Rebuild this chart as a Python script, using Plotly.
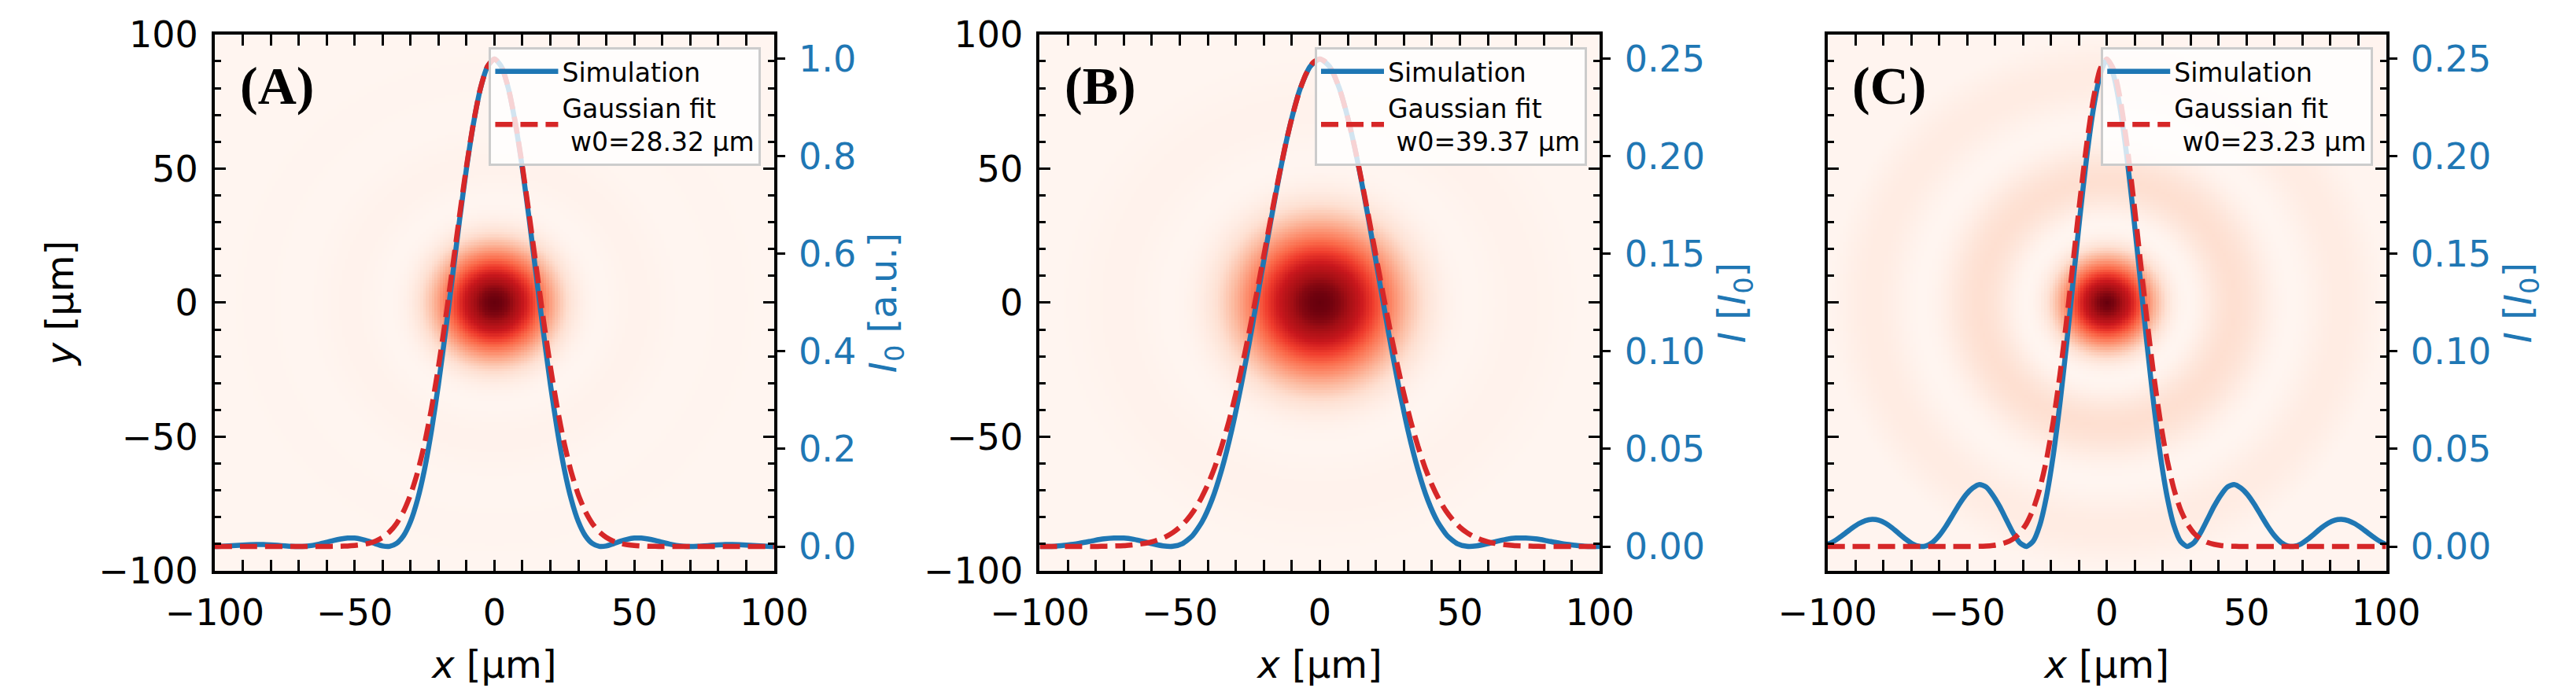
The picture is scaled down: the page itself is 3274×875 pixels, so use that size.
import numpy as np
import plotly.graph_objects as go

# ---------------- data ----------------
# Panel A : x grid step 2.5 um
XA = np.arange(-100, 100.01, 2.5)
SIM_A = [0.0001, 0.0005, 0.0012, 0.0021, 0.0030, 0.0037, 0.0041, 0.0041, 0.0034, 0.0024,
         0.0013, 0.0004, 0.0000, 0.0006, 0.0022, 0.0050, 0.0085, 0.0123, 0.0154, 0.0173,
         0.0172, 0.0148, 0.0106, 0.0054, 0.0011, 0.0003, 0.0062, 0.0220, 0.0510, 0.0960,
         0.1580, 0.2380, 0.3330, 0.4400, 0.5530, 0.6680, 0.7750, 0.8670, 0.9390, 0.9840,
         1.0000,
         0.9840, 0.9390, 0.8670, 0.7750, 0.6680, 0.5530, 0.4400, 0.3330, 0.2380, 0.1580,
         0.0960, 0.0510, 0.0220, 0.0062, 0.0003, 0.0011, 0.0054, 0.0106, 0.0148, 0.0172,
         0.0173, 0.0154, 0.0123, 0.0085, 0.0050, 0.0022, 0.0006, 0.0000, 0.0004, 0.0013,
         0.0024, 0.0034, 0.0041, 0.0041, 0.0037, 0.0030, 0.0021, 0.0012, 0.0005, 0.0001]
FIT_A = [0, 0, 0, 0, 0, 0, 0, 0, 0, 0, 0, 0, 0, 0, 0, 0,
         0.0001, 0.0003, 0.0005, 0.0010, 0.0020, 0.0036, 0.0064, 0.0111, 0.0185, 0.0300,
         0.0471, 0.0718, 0.1060, 0.1517, 0.2104, 0.2830, 0.3688, 0.4659, 0.5706, 0.6773,
         0.7793, 0.8691, 0.9396, 0.9845,
         1.0000,
         0.9845, 0.9396, 0.8691, 0.7793, 0.6773, 0.5706, 0.4659, 0.3688, 0.2830, 0.2104,
         0.1517, 0.1060, 0.0718, 0.0471, 0.0300, 0.0185, 0.0111, 0.0064, 0.0036, 0.0020,
         0.0010, 0.0005, 0.0003, 0.0001,
         0, 0, 0, 0, 0, 0, 0, 0, 0, 0, 0, 0, 0, 0, 0, 0]

# Panel B
XB_SIM = [-100, -98, -94.5, -91, -87.5, -84, -80.5, -77, -73.5, -70, -66.5, -63, -59.5, -56,
          -52.5, -49, -45.5, -42, -38.5, -35, -31.5, -28, -24.5, -21, -17.5, -14, -10.5, -7,
          -3.5, 0, 3.5, 7, 10.5, 14, 17.5, 21, 24.5, 28, 31.5, 35, 38.5, 42, 45.5, 49, 52.5,
          56, 59.5, 63, 66.5, 70, 73.5, 77, 80.5, 84, 87.5, 91, 94.5, 98, 100]
SIM_B = [0.0000, 0.0000, 0.0001, 0.0006, 0.0012, 0.0021, 0.0031, 0.0039, 0.0043, 0.0043,
         0.0037, 0.0026, 0.0013, 0.0003, 0.0001, 0.0015, 0.0055, 0.0128, 0.0240, 0.0396,
         0.0594, 0.0832, 0.1099, 0.1384, 0.1669, 0.1937, 0.2168, 0.2348, 0.2460,
         0.2500,
         0.2460, 0.2348, 0.2168, 0.1937, 0.1669, 0.1384, 0.1099, 0.0832, 0.0594, 0.0396,
         0.0240, 0.0128, 0.0055, 0.0015, 0.0001, 0.0003, 0.0013, 0.0026, 0.0037, 0.0043,
         0.0043, 0.0039, 0.0031, 0.0021, 0.0012, 0.0006, 0.0001, 0.0000, 0.0000]
XB_FIT = np.arange(-100, 100.01, 2.5)
FIT_B = [0, 0, 0, 0, 0, 0, 0, 0, 0,
         0.0001, 0.0002, 0.0003, 0.0004, 0.0007, 0.0011, 0.0016, 0.0024, 0.0035, 0.0050,
         0.0071, 0.0099, 0.0136, 0.0183, 0.0243, 0.0317, 0.0407, 0.0515, 0.0640, 0.0783,
         0.0942, 0.1116, 0.1301, 0.1492, 0.1684, 0.1870, 0.2044, 0.2197, 0.2325, 0.2421,
         0.2480,
         0.2500,
         0.2480, 0.2421, 0.2325, 0.2197, 0.2044, 0.1870, 0.1684, 0.1492, 0.1301, 0.1116,
         0.0942, 0.0783, 0.0640, 0.0515, 0.0407, 0.0317, 0.0243, 0.0183, 0.0136, 0.0099,
         0.0071, 0.0050, 0.0035, 0.0024, 0.0016, 0.0011, 0.0007, 0.0004, 0.0003, 0.0002,
         0.0001,
         0, 0, 0, 0, 0, 0, 0, 0, 0]

# Panel C
XC = [-100, -98.4, -96.0, -93.6, -91.2, -88.8, -86.4, -84.0, -81.6, -79.2, -76.8, -74.4,
      -72.0, -69.6, -67.2, -64.8, -62.4, -60.0, -57.6, -55.2, -52.8, -50.4, -48.0, -45.6,
      -43.2, -40.8, -38.4, -36.0, -33.6, -31.2, -28.8, -26.4, -24.0, -21.6, -19.2, -16.8,
      -14.4, -12.0, -9.6, -7.2, -4.8, -2.4, 0,
      2.4, 4.8, 7.2, 9.6, 12.0, 14.4, 16.8, 19.2, 21.6, 24.0, 26.4, 28.8, 31.2, 33.6, 36.0,
      38.4, 40.8, 43.2, 45.6, 48.0, 50.4, 52.8, 55.2, 57.6, 60.0, 62.4, 64.8, 67.2, 69.6,
      72.0, 74.4, 76.8, 79.2, 81.6, 84.0, 86.4, 88.8, 91.2, 93.6, 96.0, 98.4, 100]
SIM_C = [0.0011, 0.0021, 0.0043, 0.0068, 0.0094, 0.0117, 0.0133, 0.0139, 0.0135, 0.0119,
         0.0095, 0.0066, 0.0038, 0.0014, 0.0001, 0.0003, 0.0021, 0.0056, 0.0104, 0.0160,
         0.0217, 0.0266, 0.0300, 0.0318, 0.0305, 0.0263, 0.0206, 0.0138, 0.0071, 0.0020,
         0.0000, 0.0026, 0.0109, 0.0256, 0.0465, 0.0730, 0.1037, 0.1367, 0.1695, 0.1996,
         0.2244, 0.2417,
         0.2500,
         0.2417, 0.2244, 0.1996, 0.1695, 0.1367, 0.1037, 0.0730, 0.0465, 0.0256, 0.0109,
         0.0026, 0.0000, 0.0020, 0.0071, 0.0138, 0.0206, 0.0263, 0.0305, 0.0318, 0.0300,
         0.0266, 0.0217, 0.0160, 0.0104, 0.0056, 0.0021, 0.0003, 0.0001, 0.0014, 0.0038,
         0.0066, 0.0095, 0.0119, 0.0135, 0.0139, 0.0133, 0.0117, 0.0094, 0.0068, 0.0043,
         0.0021, 0.0011]
FIT_C = [0, 0, 0, 0, 0, 0, 0, 0, 0, 0, 0, 0, 0, 0, 0, 0, 0, 0, 0, 0, 0, 0, 0,
         0.0001, 0.0002, 0.0005, 0.0011, 0.0021, 0.0038, 0.0068, 0.0116, 0.0189, 0.0296,
         0.0444, 0.0638, 0.0878, 0.1159, 0.1466, 0.1777, 0.2063, 0.2295, 0.2447,
         0.2500,
         0.2447, 0.2295, 0.2063, 0.1777, 0.1466, 0.1159, 0.0878, 0.0638, 0.0444, 0.0296,
         0.0189, 0.0116, 0.0068, 0.0038, 0.0021, 0.0011, 0.0005, 0.0002, 0.0001,
         0, 0, 0, 0, 0, 0, 0, 0, 0, 0, 0, 0, 0, 0, 0, 0, 0, 0, 0, 0, 0, 0, 0]

LABELS = ["(A)", "(B)", "(C)"]
W0_TEXT = ["w0=28.32 µm", "w0=39.37 µm", "w0=23.23 µm"]
RIGHT_TITLES = ["<i>I</i><sub>0</sub> [a.u.]", "<i>I</i> [<i>I</i><sub>0</sub>]",
                "<i>I</i> [<i>I</i><sub>0</sub>]"]
RIGHT_TICKS = [[0, 0.2, 0.4, 0.6, 0.8, 1.0], [0, 0.05, 0.10, 0.15, 0.20, 0.25],
               [0, 0.05, 0.10, 0.15, 0.20, 0.25]]
RIGHT_RANGES = [[-0.05, 1.05], [-0.0125, 0.2625], [-0.0125, 0.2625]]
RIGHT_FMT = [".1f", ".2f", ".2f"]

# ---------------- style ----------------
W, H = 3274, 875
BLUE = "#1f77b4"
RED = "#d62728"
REDS = [[0.0, "rgb(255,245,240)"], [0.125, "rgb(254,224,210)"], [0.25, "rgb(252,187,161)"],
        [0.375, "rgb(252,146,114)"], [0.5, "rgb(251,106,74)"], [0.625, "rgb(239,59,44)"],
        [0.75, "rgb(203,24,29)"], [0.875, "rgb(165,15,21)"], [1.0, "rgb(103,0,13)"]]
FONT = "DejaVu Sans"
PLOT_PX = [(217, 952), (1301, 2037), (2336, 3070)]
TOP_PX, BOT_PX = 18, 745
YDOM = [(H - BOT_PX) / H, (H - TOP_PX) / H]

panels = [
    (XA, SIM_A, XA, FIT_A),
    (XB_SIM, SIM_B, XB_FIT, FIT_B),
    (XC, SIM_C, XC, FIT_C),
]

fig = go.Figure()
layout = dict(width=W, height=H, margin=dict(l=0, r=0, t=0, b=0),
              paper_bgcolor="white", plot_bgcolor="white", annotations=[])

grid = np.arange(-100, 100.5, 1.0)
GX, GY = np.meshgrid(grid, grid)
R = np.sqrt(GX ** 2 + GY ** 2)

for i, (xs, sim, xf, fit) in enumerate(panels):
    xn = "" if i == 0 else str(i + 1)
    yb = "" if i == 0 else str(2 * i + 1)
    yr = str(2 * i + 2)
    lg = "legend" if i == 0 else f"legend{i + 1}"

    xs_arr = np.asarray(xs, dtype=float)
    sim_arr = np.asarray(sim, dtype=float)
    pos = xs_arr >= 0
    zimg = np.interp(R, xs_arr[pos], sim_arr[pos])

    fig.add_trace(go.Heatmap(x=grid, y=grid, z=zimg, colorscale=REDS, zmin=0,
                             zmax=float(sim_arr.max()), showscale=False, hoverinfo="skip",
                             xaxis="x" + xn, yaxis="y" + yb))
    fig.add_trace(go.Scatter(x=xs, y=sim, mode="lines", name="Simulation",
                             line=dict(color=BLUE, width=6.5, shape="spline", smoothing=0.6),
                             xaxis="x" + xn, yaxis="y" + yr, legend=lg))
    fig.add_trace(go.Scatter(x=xf, y=fit, mode="lines",
                             name="Gaussian fit<br>\u00a0" + W0_TEXT[i],
                             line=dict(color=RED, width=6.5, dash="22px,10px", shape="spline",
                                       smoothing=0.6),
                             xaxis="x" + xn, yaxis="y" + yr, legend=lg))

    x0, x1 = PLOT_PX[i]
    common = dict(showgrid=False, zeroline=False, showline=True, linewidth=4,
                  linecolor="black", mirror="allticks", ticks="inside", ticklen=14,
                  tickwidth=3, tickcolor="black", ticklabeloverflow="allow",
                  minor=dict(dtick=10, tick0=0, ticks="inside", ticklen=8, tickwidth=2.5,
                             tickcolor="black"),
                  tickfont=dict(family=FONT, size=46, color="black"),
                  range=[-100, 100], tickvals=[-100, -50, 0, 50, 100])
    layout["xaxis" + xn] = dict(common, domain=[x0 / W, x1 / W], anchor="y" + yb,
                                ticklabelstandoff=10,
                                title=dict(text="<i>x</i> [µm]",
                                           font=dict(family=FONT, size=48, color="black"),
                                           standoff=24))
    ycfg = dict(common, domain=YDOM, anchor="x" + xn, showticklabels=(i < 2),
                ticklabelstandoff=8)
    if i == 0:
        ycfg["title"] = dict(text="<i>y</i> [µm]",
                             font=dict(family=FONT, size=48, color="black"), standoff=18)
    layout["yaxis" + yb] = ycfg
    layout["yaxis" + yr] = dict(overlaying="y" + yb, anchor="x" + xn, side="right",
                                range=RIGHT_RANGES[i], tickvals=RIGHT_TICKS[i],
                                tickformat=RIGHT_FMT[i], showgrid=False, zeroline=False,
                                showline=False, ticks="outside", ticklen=13, tickwidth=3,
                                tickcolor="black", ticklabeloverflow="allow",
                                ticklabelstandoff=8,
                                tickfont=dict(family=FONT, size=46, color=BLUE),
                                title=dict(text=RIGHT_TITLES[i],
                                           font=dict(family=FONT, size=48, color=BLUE),
                                           standoff=18))
    layout[lg] = dict(x=(x1 - 17) / W, y=(H - TOP_PX - 17) / H, xanchor="right",
                      yanchor="top", bgcolor="rgba(255,255,255,0.8)", bordercolor="#cccccc",
                      borderwidth=3, font=dict(family=FONT, size=33, color="black"),
                      tracegroupgap=8, itemwidth=80)
    layout["annotations"].append(dict(
        text="<b>" + LABELS[i] + "</b>", xref="x" + xn + " domain", yref="y" + yb + " domain",
        x=0.042, y=0.905, xanchor="left", yanchor="middle", showarrow=False,
        font=dict(family="Liberation Serif", size=68, color="black")))

fig.update_layout(**layout)
fig.write_html("out.html")
